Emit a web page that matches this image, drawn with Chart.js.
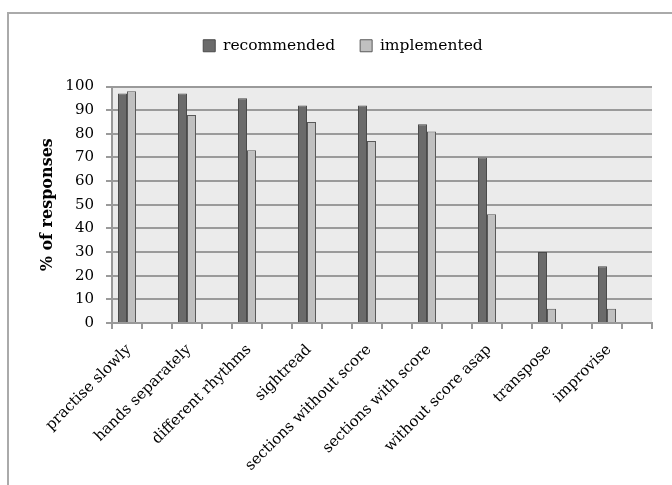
<!DOCTYPE html>
<html>
<head>
<meta charset="utf-8">
<script src="https://cdn.jsdelivr.net/npm/chart.js@4"></script>
<style>
  html, body { margin: 0; padding: 0; background: #fff; overflow: hidden; }
  #wrap { position: relative; width: 672px; height: 485px; }
  #frame { position: absolute; left: 7px; top: 12px; width: 700px; height: 500px; border: 2px solid #aaaaaa; box-sizing: border-box; }
  #c { position: absolute; left: 0; top: 0; }
</style>
</head>
<body>
<div id="wrap">
  <div id="frame"></div>
  <canvas id="c" width="672" height="485"></canvas>
</div>
<script>
const categories = ['practise slowly', 'hands separately', 'different rhythms', 'sightread',
  'sections without score', 'sections with score', 'without score asap', 'transpose', 'improvise'];
const recommended = [97, 97, 95, 92, 92, 84, 70, 30, 24];
const implemented = [98, 88, 73, 85, 77, 81, 46, 6, 6];
const yTicks = [0, 10, 20, 30, 40, 50, 60, 70, 80, 90, 100];

// Excel layout: every category followed by an empty slot
const labels = [];
const recData = [];
const impData = [];
categories.forEach((c, i) => {
  labels.push(c, '');
  recData.push(recommended[i], null);
  impData.push(implemented[i], null);
});

const serif = 'DejaVu Serif';

const plotBg = {
  id: 'plotBg',
  beforeDraw(chart) {
    const a = chart.chartArea;
    const ctx = chart.ctx;
    ctx.save();
    ctx.fillStyle = '#ebebeb';
    ctx.fillRect(a.left, a.top, a.right - a.left, a.bottom - a.top);
    ctx.restore();
  }
};

const legendSpace = {
  id: 'legendSpace',
  beforeLayout(chart) {
    const lg = chart.legend;
    if (lg && !lg._patched) {
      const orig = lg.fit;
      lg.fit = function () { orig.call(this); this.height += 23; };
      lg._patched = true;
    }
  }
};

new Chart(document.getElementById('c'), {
  type: 'bar',
  data: {
    labels: labels,
    datasets: [
      { label: 'recommended', data: recData, backgroundColor: '#6b6b6b', borderColor: '#4a4a4a', borderWidth: 1 },
      { label: 'implemented', data: impData, backgroundColor: '#c0c0c0', borderColor: '#5a5a5a', borderWidth: 1 }
    ]
  },
  options: {
    responsive: false,
    animation: false,
    devicePixelRatio: 1,
    categoryPercentage: 0.6,
    barPercentage: 1.0,
    layout: { padding: { left: 34, right: 20, top: 13, bottom: 0 } },
    plugins: {
      legend: {
        position: 'top',
        labels: {
          boxWidth: 12, boxHeight: 12, padding: 25,
          color: '#000',
          font: { family: serif, size: 15.5 }
        }
      },
      tooltip: { enabled: false }
    },
    scales: {
      x: {
        grid: { drawOnChartArea: false, drawTicks: true, tickLength: 6, color: '#999', lineWidth: 2, offset: true },
        border: { display: true, color: '#999', width: 2 },
        ticks: {
          autoSkip: false, maxRotation: 45, minRotation: 45,
          color: '#000', padding: 12, labelOffset: 2,
          font: { family: serif, size: 15 }
        },
        afterFit(scale) { scale.height = 162; }
      },
      y: {
        min: 0, max: 100,
        afterBuildTicks(scale) { scale.ticks = yTicks.map(v => ({ value: v })); },
        grid: { color: '#9a9a9a', lineWidth: 2, drawTicks: true, tickLength: 6 },
        border: { display: true, color: '#999', width: 2 },
        ticks: { color: '#000', padding: 12, font: { family: serif, size: 15 } },
        title: { display: true, text: '% of responses', color: '#000', font: { family: serif, size: 16, weight: 'bold' } },
        afterFit(scale) { scale.width = 78; }
      }
    }
  },
  plugins: [plotBg, legendSpace]
});
</script>
</body>
</html>
